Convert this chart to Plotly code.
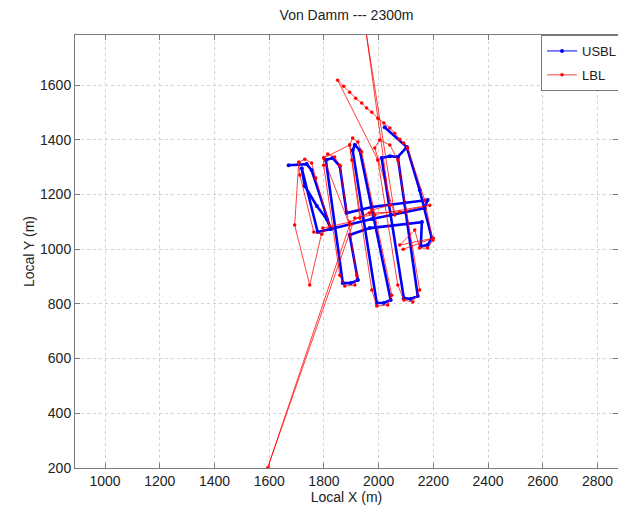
import plotly.graph_objects as go

# ---- data (local metres) ----
usbl_x = [1671, 1737, 1755, 1825, 1777, 1719, 1730, 1774, 1810, 1825,
          1975, 2168, 2179, 1975, 1883, 1858, 1832, 1807, 1869, 1898,
          1924, 1894, 1967, 2158, 2154, 2179, 2194, 2150, 2103, 2070,
          2143, 2117, 2092, 2011, 2041, 2070, None,
          1913, 1905, 1993, 2019, 2044, 1931, 1913, None,
          2022, 2103]
usbl_y = [1307, 1311, 1289, 1074, 1063, 1296, 1231, 1158, 1110, 1074,
          1110, 1150, 1180, 1154, 1132, 1304, 1333, 1326, 876, 876,
          887, 1052, 1077, 1099, 1011, 1015, 1041, 1216, 1373, 1337,
          829, 818, 821, 1333, 1340, 1337, None,
          1381, 1362, 803, 803, 814, 1362, 1381, None,
          1446, 1373]

lbl_x = [1708, 1730, 1755, 1770, 1821, 1792, 1763, 1712, 1708,
         1693, 1748, 1796,
         1894, 1967, 2077, 2187,
         1913, 1594, 1894,
         1799, 1814, 1839, 1858, 1920, 1913, 1876, 1858, 1799, 1799,
         1894, 1905, 1924, 1938, 1986, 2048, 2033, 1993, 1975, 1902, 1894,
         1931, 1975, 2041, 1953, 2059,
         1997, 1986, 2004, 2041, 2070, 2150, 2125, 2092, 2070, 1997,
         1850, 1872, 1894, 1916, 1938, 1956, 1975, 1997, 2019, 2041,
         2059, 2077, 2092, 2106, 2168, 2198, 2179, 2150, 2132,
         2077, 2200, 2090]
lbl_y = [1318, 1329, 1315, 1260, 1085, 1055, 1063, 1271, 1318,
         1088, 869, 1077,
         1099, 1132, 1136, 1161,
         1114, 200, 1088,
         1333, 1348, 1337, 1307, 905, 869, 865, 905, 1307, 1333,
         1381, 1406, 1392, 1355, 1125, 832, 796, 792, 851, 1326, 1381,
         1114, 1143, 1161, 1801, 1125,
         1326, 1370, 1399, 1381, 1326, 851, 807, 814, 869, 1326,
         1618, 1596, 1574, 1552, 1534, 1516, 1501, 1479, 1461, 1443,
         1424, 1402, 1388, 1370, 1180, 1033, 1004, 1004, 1070,
         1015, 1040, 1000]

x_ticks = [1000, 1200, 1400, 1600, 1800, 2000, 2200, 2400, 2600, 2800]
y_ticks = [200, 400, 600, 800, 1000, 1200, 1400, 1600]

BLUE = "rgb(0,0,255)"
RED = "rgb(255,0,0)"
FONT = "Liberation Sans, Arial, Helvetica, sans-serif"

fig = go.Figure()
# thick body of USBL track (dense fixes)
fig.add_trace(go.Scatter(x=usbl_x, y=usbl_y, mode="lines",
                         line=dict(color=BLUE, width=2.6),
                         showlegend=False, hoverinfo="skip"))
fig.add_trace(go.Scatter(x=usbl_x, y=usbl_y, mode="lines+markers", name="USBL",
                         line=dict(color=BLUE, width=1),
                         marker=dict(color=BLUE, size=4),
                         legendgroup="a"))
fig.add_trace(go.Scatter(x=lbl_x, y=lbl_y, mode="lines+markers", name="LBL",
                         line=dict(color="rgba(255,0,0,0.75)", width=1),
                         marker=dict(color=RED, size=3.5),
                         legendgroup="b"))

axis_common = dict(
    showline=True, linecolor="#7a7a7a", linewidth=1, mirror="ticks",
    ticks="inside", ticklen=5, tickcolor="#7a7a7a",
    showgrid=True, gridcolor="#d2d2d2", griddash="dot", gridwidth=1,
    zeroline=False,
    tickfont=dict(family=FONT, size=14, color="#222"),
)

fig.update_layout(
    width=618, height=509,
    margin=dict(l=75, r=0, t=35, b=41, autoexpand=False),
    paper_bgcolor="white", plot_bgcolor="white",
    font=dict(family=FONT, size=14, color="#222"),
    title=dict(text="Von Damm --- 2300m", x=0.5, xref="paper", xanchor="center",
               y=1 - 15 / 509, yref="container", yanchor="middle",
               font=dict(family=FONT, size=14, color="#222")),
    xaxis=dict(range=[890, 2875], tickvals=x_ticks,
               title=dict(text="Local X (m)", standoff=3,
                          font=dict(family=FONT, size=14, color="#222")),
               **axis_common),
    yaxis=dict(range=[200, 1783], tickvals=y_ticks,
               title=dict(text="Local Y (m)", standoff=2,
                          font=dict(family=FONT, size=14, color="#222")),
               **axis_common),
    legend=dict(x=(541 - 75) / 543, y=1, xanchor="left", yanchor="top",
                bgcolor="white", bordercolor="#7a7a7a", borderwidth=1,
                font=dict(family=FONT, size=13, color="#222"),
                tracegroupgap=4, itemwidth=30),
    showlegend=True,
)

fig.write_html("out.html",
               config={"displayModeBar": False},
               post_script="document.body.style.margin='0px';document.body.style.overflow='hidden';")
